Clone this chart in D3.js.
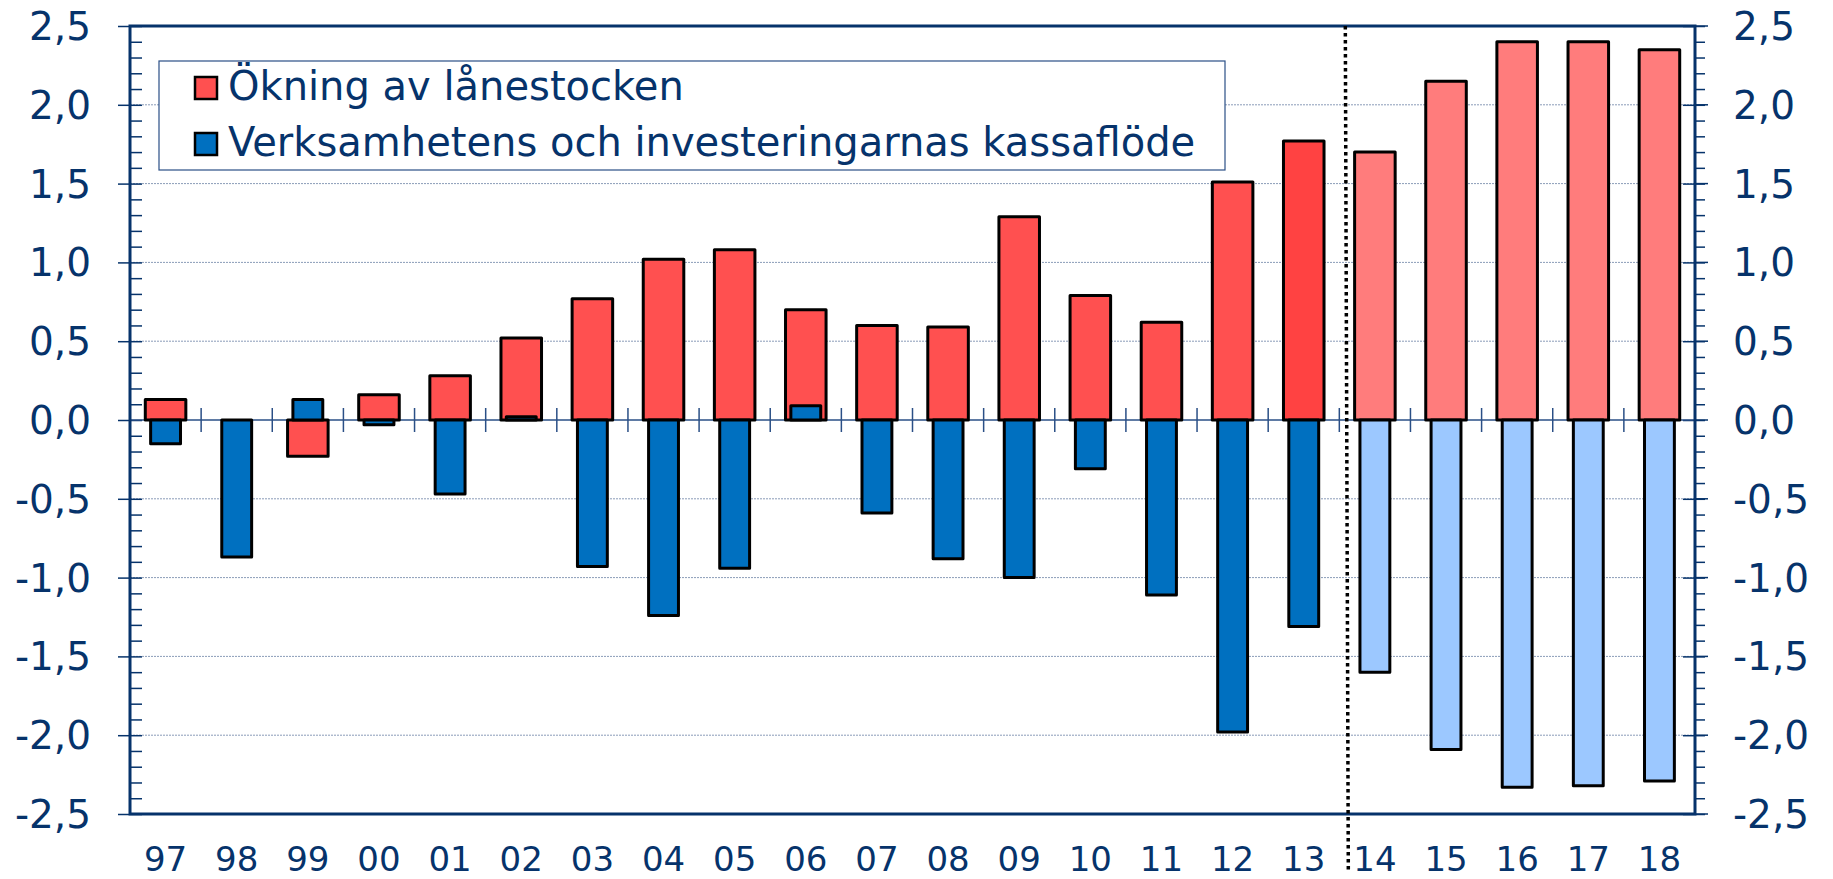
<!DOCTYPE html>
<html>
<meta charset="utf-8">
<head>
    <title>Ökning av lånestocken</title>
    <script src="https://cdn.jsdelivr.net/npm/d3@7"></script>
    <style>
    body { margin: 0; background: #fff; }
    text { font-family: "DejaVu Sans", Verdana, sans-serif; fill: #06336b; }
    </style>
</head>
<body>
    <script>

    // Data (billions, years 1997-2018)
    var years = ["97","98","99","00","01","02","03","04","05","06","07","08","09","10","11","12","13","14","15","16","17","18"];
    var lanestock = [0.13, 0.00, -0.23, 0.16, 0.28, 0.52, 0.77, 1.02, 1.08, 0.70, 0.60, 0.59, 1.29, 0.79, 0.62, 1.51, 1.77, 1.70, 2.15, 2.40, 2.40, 2.35];
    var kassaflode = [-0.15, -0.87, 0.13, -0.03, -0.47, 0.02, -0.93, -1.24, -0.94, 0.09, -0.59, -0.88, -1.00, -0.31, -1.11, -1.98, -1.31, -1.60, -2.09, -2.33, -2.32, -2.29];
    var yTicks = [-2.5, -2.0, -1.5, -1.0, -0.5, 0.0, 0.5, 1.0, 1.5, 2.0, 2.5];
    var seriesNames = ["Ökning av lånestocken", "Verksamhetens och investeringarnas kassaflöde"];
    var firstForecast = "14";

    var width = 1833;
    var height = 879;
    var margin = {top: 26, right: 138, bottom: 65, left: 130};
    var navy = "#06336b";

    var svg = d3.select("body")
        .append("svg")
        .attr("width", width)
        .attr("height", height);

    var x = d3.scaleBand()
        .domain(years)
        .range([margin.left, width - margin.right]);

    var y = d3.scaleLinear()
        .domain([-2.5, 2.5])
        .range([height - margin.bottom, margin.top]);

    var fmt = function(v) { return d3.format(".1f")(v).replace(".", ",").replace("−", "-"); };
    var fi = years.indexOf(firstForecast);

    function redColor(d, i) {
        if (i >= fi) return "#ff7c7c";
        if (i === fi - 1) return "#ff4242";
        return "#ff5050";
    }
    function blueColor(d, i) {
        return i >= fi ? "#9cc8ff" : "#0070c0";
    }

    // Gridlines (dotted)
    svg.append("g")
        .selectAll("line")
        .data(yTicks.filter(function(t) { return t !== 0 && Math.abs(t) !== 2.5; }))
        .enter()
        .append("line")
        .attr("x1", margin.left)
        .attr("x2", width - margin.right)
        .attr("y1", function(d) { return y(d); })
        .attr("y2", function(d) { return y(d); })
        .attr("stroke", "#8a9cb8")
        .attr("stroke-width", 1)
        .attr("stroke-dasharray", "2,1");

    // Left and right axes with minor ticks
    var minor = d3.range(-25, 26).map(function(v) { return v / 10; });

    var leftAxis = d3.axisLeft(y).tickValues(yTicks).tickSize(12).tickFormat("");
    var leftMinor = d3.axisRight(y).tickValues(minor).tickSize(12).tickFormat("");
    var rightAxis = d3.axisRight(y).tickValues(minor).tickSize(10).tickFormat("");
    var rightMajor = d3.axisLeft(y).tickValues(yTicks).tickSize(12).tickFormat("");

    function styleAxis(g) {
        g.select(".domain").remove();
        g.selectAll("line").attr("stroke", navy).attr("stroke-width", 1.5);
    }

    svg.append("g").attr("transform", "translate(" + margin.left + ",0)").call(leftAxis).call(styleAxis);
    svg.append("g").attr("transform", "translate(" + margin.left + ",0)").call(leftMinor).call(styleAxis);
    svg.append("g").attr("transform", "translate(" + (width - margin.right) + ",0)").call(rightAxis).call(styleAxis);
    svg.append("g").attr("transform", "translate(" + (width - margin.right) + ",0)").call(rightMajor).call(styleAxis);
    svg.append("g").attr("transform", "translate(" + (width - margin.right + 13) + ",0)")
        .selectAll("line").data(yTicks).enter().append("line")
        .attr("x1", -13).attr("x2", 0)
        .attr("y1", function(d) { return y(d); }).attr("y2", function(d) { return y(d); })
        .attr("stroke", navy).attr("stroke-width", 1.5);

    // Tick labels
    svg.append("g")
        .selectAll("text")
        .data(yTicks)
        .enter()
        .append("text")
        .attr("x", 91)
        .attr("y", function(d) { return y(d); })
        .attr("dy", "0.36em")
        .attr("text-anchor", "end")
        .style("font-size", "39px")
        .text(fmt);

    svg.append("g")
        .selectAll("text")
        .data(yTicks)
        .enter()
        .append("text")
        .attr("x", width - margin.right + 38)
        .attr("y", function(d) { return y(d); })
        .attr("dy", "0.36em")
        .attr("text-anchor", "start")
        .style("font-size", "39px")
        .text(fmt);

    // Zero line with category ticks
    svg.append("line")
        .attr("x1", margin.left).attr("x2", width - margin.right)
        .attr("y1", y(0)).attr("y2", y(0))
        .attr("stroke", "#2a4f86").attr("stroke-width", 1.5);

    svg.append("g")
        .selectAll("line")
        .data(years.slice(1))
        .enter()
        .append("line")
        .attr("x1", function(d) { return x(d); })
        .attr("x2", function(d) { return x(d); })
        .attr("y1", y(0) - 12)
        .attr("y2", y(0) + 12)
        .attr("stroke", "#2a4f86")
        .attr("stroke-width", 1.5);

    // Bars: red first, blue on top
    var redW = x.bandwidth() * 0.57;
    var blueW = x.bandwidth() * 0.42;

    svg.append("g")
        .selectAll("rect")
        .data(lanestock)
        .enter()
        .append("rect")
        .attr("x", function(d, i) { return x(years[i]) + (x.bandwidth() - redW) / 2; })
        .attr("width", redW)
        .attr("y", function(d) { return y(Math.max(0, d)); })
        .attr("height", function(d) { return Math.abs(y(d) - y(0)); })
        .attr("fill", redColor)
        .attr("stroke", "#000")
        .attr("stroke-width", 3)
        .attr("stroke-linejoin", "round");

    svg.append("g")
        .selectAll("rect")
        .data(kassaflode)
        .enter()
        .append("rect")
        .attr("x", function(d, i) { return x(years[i]) + (x.bandwidth() - blueW) / 2; })
        .attr("width", blueW)
        .attr("y", function(d) { return y(Math.max(0, d)); })
        .attr("height", function(d) { return Math.abs(y(d) - y(0)); })
        .attr("fill", blueColor)
        .attr("stroke", "#000")
        .attr("stroke-width", 3)
        .attr("stroke-linejoin", "round");

    // Plot frame
    svg.append("rect")
        .attr("x", margin.left)
        .attr("y", margin.top)
        .attr("width", width - margin.left - margin.right)
        .attr("height", height - margin.top - margin.bottom)
        .attr("fill", "none")
        .attr("stroke", navy)
        .attr("stroke-width", 3);

    // Dotted forecast divider
    var divX = x(firstForecast) + 6;
    svg.append("line")
        .attr("x1", divX).attr("x2", divX + 3)
        .attr("y1", margin.top).attr("y2", 872)
        .attr("stroke", "#000")
        .attr("stroke-width", 3.5)
        .attr("stroke-dasharray", "3.5,3.5");

    // Year labels
    svg.append("g")
        .selectAll("text")
        .data(years)
        .enter()
        .append("text")
        .attr("x", function(d) { return x(d) + x.bandwidth() / 2; })
        .attr("y", 871)
        .attr("text-anchor", "middle")
        .style("font-size", "34px")
        .text(function(d) { return d; });

    // Legend
    var legend = svg.append("g");
    legend.append("rect")
        .attr("x", 159).attr("y", 61)
        .attr("width", 1066).attr("height", 109)
        .attr("fill", "#fff")
        .attr("stroke", "#2a4f86")
        .attr("stroke-width", 1.2);

    var legendColors = ["#ff5050", "#0070c0"];
    var legendRows = legend.selectAll("g.row")
        .data(seriesNames)
        .enter()
        .append("g")
        .attr("class", "row")
        .attr("transform", function(d, i) { return "translate(0," + (i * 56) + ")"; });

    legendRows.append("rect")
        .attr("x", 195).attr("y", 77)
        .attr("width", 22).attr("height", 22)
        .attr("fill", function(d, i) { return legendColors[i]; })
        .attr("stroke", "#000")
        .attr("stroke-width", 2.5);

    legendRows.append("text")
        .attr("x", 228)
        .attr("y", 100)
        .style("font-size", "40px")
        .text(function(d) { return d; });

    </script>
</body>
</html>
